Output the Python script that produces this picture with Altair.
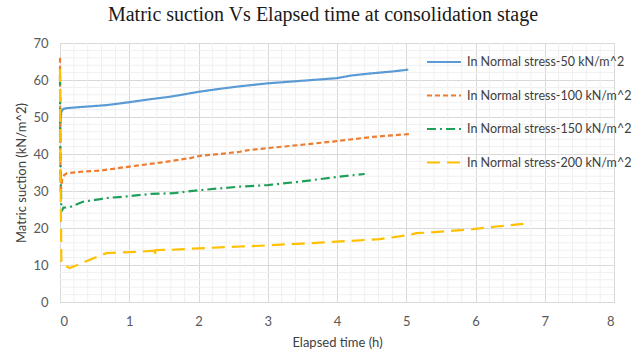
import altair as alt
import pandas as pd

# ---- data ----
series_names = [
    "In Normal stress-50 kN/m^2",
    "In Normal stress-100 kN/m^2",
    "In Normal stress-150 kN/m^2",
    "In Normal stress-200 kN/m^2",
]

t50 = [0, 0.005, 0.02, 0.05, 0.1, 0.3, 0.67, 1.0, 1.3, 1.6, 2.0, 2.3, 2.6, 3.0, 3.5, 4.0, 4.2, 4.5, 4.8, 5.03]
v50 = [46, 49, 51.5, 52.2, 52.4, 52.7, 53.2, 54.0, 54.8, 55.5, 56.8, 57.6, 58.3, 59.1, 59.8, 60.5, 61.2, 61.8, 62.3, 62.8]

t100 = [0, 0.005, 0.01, 0.03, 0.06, 0.1, 0.3, 0.58, 1.0, 1.5, 1.88, 2.02, 2.3, 2.6, 2.7, 3.0, 3.5, 4.0, 4.5, 5.05]
v100 = [66, 40, 29.5, 33, 34.3, 34.8, 35.2, 35.5, 36.6, 37.8, 38.9, 39.5, 40.0, 40.6, 41.0, 41.6, 42.5, 43.5, 44.6, 45.4]

t150 = [0, 0.005, 0.02, 0.05, 0.14, 0.33, 0.58, 0.67, 1.0, 1.3, 1.64, 2.0, 2.6, 3.0, 3.5, 4.0, 4.4]
v150 = [61, 40, 24.5, 25.5, 25.6, 27.1, 27.8, 28.1, 28.6, 29.2, 29.4, 30.2, 31.2, 31.6, 32.6, 33.8, 34.6]

t200 = [0, 0.005, 0.02, 0.05, 0.14, 0.25, 0.43, 0.58, 0.67, 1.0, 1.16, 1.36, 1.37, 1.38, 1.6, 2.0, 2.6, 2.89,
        3.5, 4.0, 4.43, 4.62, 5.0, 5.15, 5.5, 5.96, 6.3, 6.69]
v200 = [63, 40, 10.5, 10.0, 9.2, 10.0, 11.4, 12.6, 13.2, 13.5, 13.6, 13.9, 12.3, 14.0, 14.1, 14.5, 15.0, 15.2,
        15.8, 16.3, 16.8, 17.0, 18.0, 18.6, 19.0, 19.7, 20.4, 21.1]

x_ticks = [0, 1, 2, 3, 4, 5, 6, 7, 8]
y_ticks = [0, 10, 20, 30, 40, 50, 60, 70]
x_minor = [i / 5 for i in range(0, 41) if i % 5 != 0]
y_minor = [v for v in range(0, 71, 2) if v % 10 != 0]

colors = ["#5B9BD5", "#ED7D31", "#1FA05A", "#FFC000"]
dashes = [[1, 0], [5, 3], [9, 4, 2, 4], [13, 7]]

rows = []
for name, ts, vs in zip(series_names, [t50, t100, t150, t200], [v50, v100, v150, v200]):
    for i, (t, v) in enumerate(zip(ts, vs)):
        rows.append({"series": name, "t": t, "v": v, "order": i})
df = pd.DataFrame(rows)

xscale = alt.Scale(domain=[0, 8], nice=False)
yscale = alt.Scale(domain=[0, 70], nice=False)
x_axis = alt.Axis(values=x_ticks, title="Elapsed time (h)", format="d", labelOverlap=False)
y_axis = alt.Axis(values=y_ticks, title="Matric suction (kN/m^2)", format="d", labelOverlap=False)

minor_x = alt.Chart(pd.DataFrame({"xm": x_minor})).mark_rule(color="#F0F0F0", strokeWidth=1).encode(
    x=alt.X("xm:Q", scale=xscale, axis=x_axis)
)
minor_y = alt.Chart(pd.DataFrame({"ym": y_minor})).mark_rule(color="#F0F0F0", strokeWidth=1).encode(
    y=alt.Y("ym:Q", scale=yscale, axis=y_axis)
)

legend_kw = dict(title=None, orient="none", legendX=366, legendY=1,
                 symbolType="stroke", symbolSize=1156, symbolStrokeWidth=2,
                 labelFont="Lato", labelFontSize=12.5, labelColor="#404040",
                 labelLimit=400, labelOffset=5, rowPadding=8.5)

lines = alt.Chart(df).mark_line(strokeWidth=2.2).encode(
    x=alt.X("t:Q", scale=xscale, axis=x_axis),
    y=alt.Y("v:Q", scale=yscale, axis=y_axis),
    color=alt.Color("series:N", scale=alt.Scale(domain=series_names, range=colors),
                    legend=alt.Legend(**legend_kw)),
    strokeDash=alt.StrokeDash("series:N", scale=alt.Scale(domain=series_names, range=dashes),
                              legend=alt.Legend(**legend_kw)),
    order="order:Q",
)

chart = alt.layer(minor_x, minor_y, lines).properties(
    width=554,
    height=259,
    autosize=alt.AutoSizeParams(type="none"),
    padding={"left": 60, "top": 43, "right": 29, "bottom": 56},
    title=alt.TitleParams(
        "Matric suction Vs Elapsed time at consolidation stage",
        font="Liberation Serif", fontSize=20, fontWeight="normal", color="#1a1a1a",
        anchor="middle", dx=-14, offset=12,
    ),
).configure_view(stroke=None).configure_axis(
    labelFont="Lato", labelFontSize=13, labelColor="#595959",
    titleFont="Lato", titleFontSize=13, titleFontWeight="normal", titleColor="#404040",
    gridColor="#D9D9D9", gridWidth=1, ticks=False,
).configure_axisX(
    domainColor="#D9D9D9", labelPadding=13, titlePadding=8,
).configure_axisY(
    domain=False, labelPadding=12, titlePadding=4,
)

chart.save("out.html", embed_options={"renderer": "svg", "actions": False})
